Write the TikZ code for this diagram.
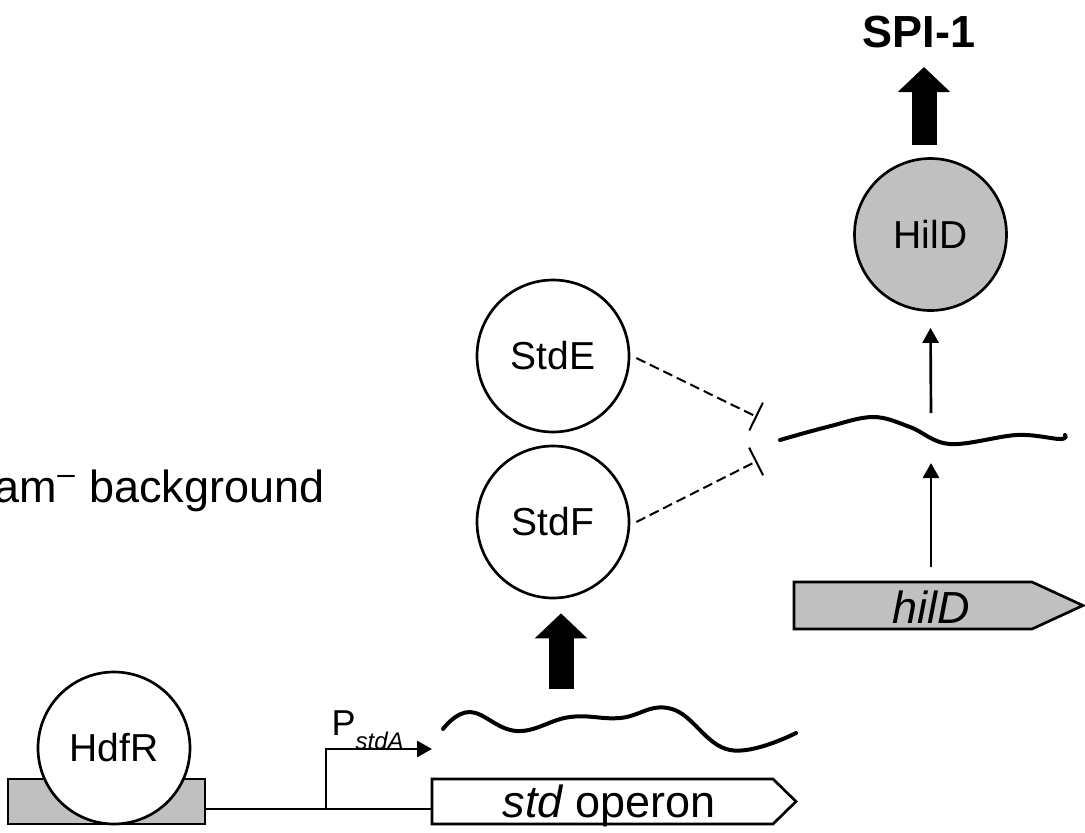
\documentclass[tikz,border=0pt]{standalone}
\usepackage{fontspec}
\setmainfont{Liberation Sans}
\usetikzlibrary{arrows.meta}

\definecolor{genegray}{HTML}{C0C0C0}

\tikzset{
  protein/.style={draw, circle, fill=white, line width=0.8pt, minimum size=45.6pt,
    inner sep=0pt, font=\fontsize{11.7}{13}\selectfont},
  site/.style={draw, fill=genegray, line width=0.8pt, minimum width=59.1pt,
    minimum height=13.5pt, inner sep=0pt},
  gene/.style={draw, line width=0.8pt},
  genelabel/.style={anchor=base, inner sep=0pt, font=\fontsize{13.5}{15}\selectfont},
  rna/.style={line width=1.2pt, line cap=round},
  fat/.style={line width=7.5pt, -{Triangle[width=15.3pt,length=7.5pt]}},
  thin/.style={line width=0.8pt, -{Triangle[width=4.8pt,length=4.5pt]}},
  inhib/.style={line width=0.6pt, dash pattern=on 3pt off 1.5pt, -{Bar[width=9.3pt]}}
}

\begin{document}
\begin{tikzpicture}[x=0.3pt, y=-0.3pt]
    \useasboundingbox (0,0) rectangle (1085,833);

    % label on the left
    \node[anchor=base east, inner sep=0pt, font=\fontsize{13.5}{15}\selectfont] (bg) at (325,502)
      {am\textsuperscript{--} background};

    % DNA with HdfR site and std operon
    \node[site] (hdfrsite) at (106.5,801.5) {};
    \node[protein] (hdfr) at (114,748) {HdfR};
    \draw[gene, fill=white] (432,779) -- (773,779) -- (796,801.5) -- (773,824) -- (432,824) -- cycle;
    \node[genelabel] (stdlab) at (609,817) {\itshape std\upshape\ operon};
    \coordinate (stdstart) at (432,809);
    \coordinate (tss) at (326,809);
    \coordinate (ptip) at (432,749);
    \draw[line width=0.8pt] (hdfrsite.east |- stdstart) -- (stdstart);
    \draw[thin] (tss) |- (ptip);
    \node[anchor=base west, inner sep=0pt] (pstd) at (331,735)
      {\fontsize{10.8}{12}\selectfont P\raisebox{-0.75ex}{\fontsize{7.2}{8}\selectfont\itshape stdA}};

    % std mRNA
    \draw[rna] plot[smooth, tension=0.7] coordinates {(443,729) (470,712) (517,731) (570,717)
      (620,718) (672,709) (730,750) (796,733)};
    \coordinate (stdrna) at (561,689);

    % StdE and StdF
    \node[protein] (stdf) at (553,522) {StdF};
    \node[protein] (stde) at (553,356) {StdE};
    \draw[fat] (stdrna) -- ([yshift=-4.2pt]stdrna |- stdf.south);
    \coordinate (bare) at (757,417);
    \coordinate (barf) at (757,461);
    \draw[inhib] ([xshift=1.8pt,yshift=-0.6pt]stde.east) -- (bare);
    \draw[inhib] ([xshift=1.8pt]stdf.east) -- (barf);

    % hilD gene, mRNA and HilD
    \draw[gene, fill=genegray] (794,582) -- (1032,582) -- (1083,605.5) -- (1032,629) -- (794,629) -- cycle;
    \node[genelabel] (hildlab) at (931,623) {\itshape hilD};
    \coordinate (hildtop) at (931,567);
    \draw[rna] plot[smooth, tension=0.6] coordinates {(780,440) (827,427) (873,417) (910,427)
      (950,444) (1017,435) (1060,439) (1065,435)};
    \coordinate (hildrnalow) at (931,463);
    \coordinate (hildrnaup) at (931,413);
    \node[protein, fill=genegray] (hild) at (930.5,234.5) {HilD};
    \draw[thin] (hildtop) -- (hildrnalow);
    \draw[thin] (hildrnaup) -- ([yshift=-4.8pt]hild.south);

    % SPI-1
    \node[anchor=base, inner sep=0pt, font=\fontsize{13.5}{15}\selectfont\bfseries] (spi) at (919,47) {SPI-1};
    \draw[fat] ([yshift=3.6pt]hild.north -| 924,0) -- (924,67);
\end{tikzpicture}
\end{document}
